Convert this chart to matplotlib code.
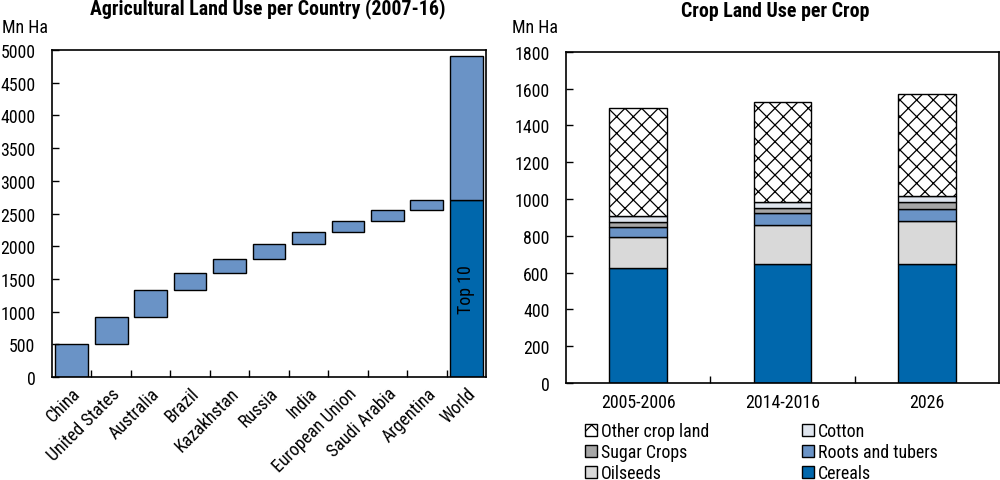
import numpy as np
import matplotlib
matplotlib.use("Agg")
import matplotlib.pyplot as plt
from matplotlib import font_manager

# Left panel: agricultural land per country, 2007-16 (Mn Ha)
COUNTRIES = ["China", "United States", "Australia", "Brazil", "Kazakhstan",
             "Russia", "India", "European Union", "Saudi Arabia", "Argentina"]
COUNTRY_LAND = [510, 413, 404, 270, 214, 220, 183, 174, 173, 148]
WORLD_LAND = 4913

# Right panel: crop land per crop (Mn Ha)
PERIODS = ["2005-2006", "2014-2016", "2026"]
CEREALS = [622, 644, 645]
OILSEEDS = [173, 214, 237]
ROOTS = [54, 64, 63]
SUGAR = [27, 31, 37]
COTTON = [33, 32, 34]
OTHER = [584, 544, 554]

DARK_BLUE = "#0067ac"
MID_BLUE = "#6a93c6"
TITLE_L = "Agricultural Land Use per Country (2007-16)"

# pick a condensed sans if one is installed, else plain Liberation Sans
fonts = font_manager.fontManager.ttflist
names = {f.name for f in fonts}
family, stretch = "Liberation Sans", "normal"
for cand in ["Roboto Condensed", "Liberation Sans Narrow", "Arial Narrow"]:
    if cand in names:
        family = cand
        stretch = next(f.stretch for f in fonts if f.name == cand)
        break
else:
    if any(f.name == "Open Sans" and f.stretch == "condensed"
           and f.weight in (400, "normal") for f in fonts):
        family, stretch = "Open Sans", "condensed"
plt.rcParams["font.family"] = [family, "DejaVu Sans"]
plt.rcParams["font.stretch"] = stretch
plt.rcParams["hatch.linewidth"] = 0.9

fig = plt.figure(figsize=(10, 4.81), dpi=100)
renderer = fig.canvas.get_renderer()


def text_size(s, **kw):
    t = fig.text(0, 0, s, **kw)
    bb = t.get_window_extent(renderer)
    t.remove()
    return bb.width, bb.height


# scale font sizes so text widths match the reference
w10, _ = text_size("Other crop land", fontsize=10)
FS = 10 * 108 / w10
wt10, _ = text_size(TITLE_L, fontsize=10, fontweight="bold")
TFS = 10 * 355 / wt10
plt.rcParams["font.size"] = FS
fs_px = FS * 100 / 72
w_leg, h_leg = text_size("Other crop land", fontsize=FS)


def style_axes(ax, n):
    ax.set_xlim(-0.5, n - 0.5)
    ax.set_xticks(np.arange(n))
    ax.set_xticks(np.arange(0.5, n - 0.5, 1), minor=True)
    ax.tick_params(axis="x", which="major", length=0, pad=7)
    ax.tick_params(axis="x", which="minor", direction="in", length=5,
                   width=1)
    ax.tick_params(axis="y", which="major", direction="in", length=5,
                   width=1, pad=12)
    for sp in ax.spines.values():
        sp.set_linewidth(1.2)


# ---- left: waterfall ----
ax1 = fig.add_axes([0.052, 0.214, 0.434, 0.680])
n = len(COUNTRIES) + 1
bottoms = np.concatenate([[0], np.cumsum(COUNTRY_LAND)[:-1]])
ax1.bar(np.arange(len(COUNTRIES)), COUNTRY_LAND, bottom=bottoms, width=0.83,
        color=MID_BLUE, edgecolor="black", linewidth=1)
top10 = sum(COUNTRY_LAND)
ax1.bar(len(COUNTRIES), top10, width=0.83, color=DARK_BLUE,
        edgecolor="black", linewidth=1)
ax1.bar(len(COUNTRIES), WORLD_LAND - top10, bottom=top10, width=0.83,
        color=MID_BLUE, edgecolor="black", linewidth=1)
ax1.text(len(COUNTRIES), top10 / 2, "Top 10", rotation=90, ha="center",
         va="center")
style_axes(ax1, n)
ax1.tick_params(axis="x", which="major", pad=5)
ax1.set_ylim(0, 5000)
ax1.set_yticks(np.arange(0, 5001, 500))
ax1.set_xticklabels(COUNTRIES + ["World"], rotation=45, ha="right",
                    rotation_mode="anchor")
fig.text(0.268, 0.981, TITLE_L, fontweight="bold", fontsize=TFS,
         ha="center", va="center")
fig.text(0.002, 0.942, "Mn Ha", va="center", ha="left")

# ---- right: stacked bars ----
ax2 = fig.add_axes([0.566, 0.202, 0.433, 0.688])
x = np.arange(len(PERIODS))
series = [
    ("Cereals", CEREALS, dict(color=DARK_BLUE)),
    ("Oilseeds", OILSEEDS, dict(color="#d9d9d9")),
    ("Roots and tubers", ROOTS, dict(color=MID_BLUE)),
    ("Sugar Crops", SUGAR, dict(color="#a6a6a6")),
    ("Cotton", COTTON, dict(color="#dfe5ee")),
    ("Other crop land", OTHER, dict(color="white", hatch="xx")),
]
handles = {}
base = np.zeros(len(PERIODS))
for name, vals, kw in series:
    h = ax2.bar(x, vals, bottom=base, width=0.4, edgecolor="black",
                linewidth=1, label=name, **kw)
    handles[name] = h
    base += np.array(vals)
style_axes(ax2, len(PERIODS))
ax2.set_ylim(0, 1800)
ax2.set_yticks(np.arange(0, 1801, 200))
ax2.set_xticklabels(PERIODS)
fig.text(0.512, 0.942, "Mn Ha", va="center", ha="left")
fig.text(0.775, 0.977, "Crop Land Use per Crop",
         fontweight="bold", fontsize=TFS, ha="center", va="center")

order = ["Other crop land", "Sugar Crops", "Oilseeds",
         "Cotton", "Roots and tubers", "Cereals"]
row_h = max(h_leg, 12)
fig.legend([handles[k] for k in order], order, ncol=2, frameon=False,
           loc="upper left",
           bbox_to_anchor=(0.585, 1 - (432 - row_h / 2) / 481),
           handlelength=12 / fs_px, handleheight=12 / fs_px,
           handletextpad=4 / fs_px,
           columnspacing=max(217 - 12 - 4 - w_leg, 10) / fs_px,
           labelspacing=max(21 - row_h, 0) / fs_px, borderaxespad=0,
           borderpad=0)

fig.savefig("out.png", dpi=100)
